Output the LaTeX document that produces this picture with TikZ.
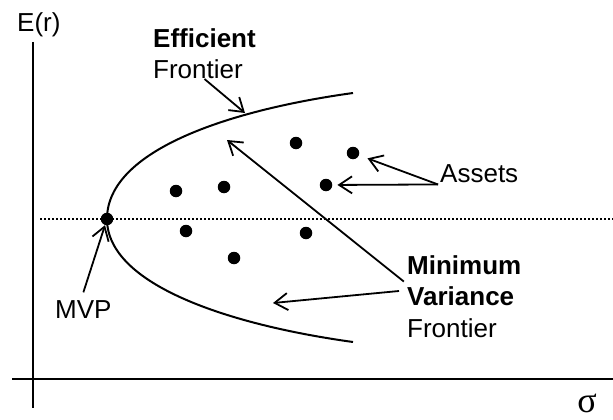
\documentclass[tikz,border=0pt]{standalone}
\usepackage{fontspec}
\setmainfont{Liberation Sans}
\newfontfamily\greekfont{Liberation Serif}
\usetikzlibrary{arrows.meta}

\begin{document}
\begin{tikzpicture}[x=1pt, y=-1pt,
  textstyle/.style={black, inner sep=0pt, align=left, font=\fontsize{26}{31.5}\selectfont},
  dotstyle/.style={circle, fill=black, inner sep=0pt, minimum size=12.5pt},
  arrowstyle/.style={black, line width=1.8pt, -{Straight Barb[length=13pt,width=17pt]}}]
  \useasboundingbox (0,0) rectangle (613,420);

  % axes and the MVP level
  \draw [line width=2pt] (33,42) -- (33,408);
  \draw [line width=2pt] (12,379) -- (613,379);
  \draw [line width=1.4pt, dash pattern=on 1.6pt off 2.4pt] (40,219) -- (613,219);
  \node [textstyle, anchor=base west] (Er) at (17,32) {E(r)};
  \node [inner sep=0pt, anchor=base, font=\greekfont\fontsize{36}{38}\selectfont] (Sigma) at (587,412) {σ};

  % frontier
  \draw [line width=2pt] (353,93) .. controls (230,110) and (107,150) .. (107,219)
    .. controls (107,285) and (230,325) .. (353,342);
  \coordinate (EffTip) at (245,113);
  \coordinate (EffInner) at (227,140);
  \coordinate (MinTip) at (273,303);

  % assets
  \node [dotstyle] (MVPDot) at (107,219) {};
  \node [dotstyle] (AssetA) at (296,143) {};
  \node [dotstyle] (AssetB) at (353,153) {};
  \node [dotstyle] (AssetC) at (326,185) {};
  \node [dotstyle] (AssetD) at (176,191) {};
  \node [dotstyle] (AssetE) at (224,187) {};
  \node [dotstyle] (AssetF) at (186,231) {};
  \node [dotstyle] (AssetG) at (306,233) {};
  \node [dotstyle] (AssetH) at (234,258) {};

  % labels
  \node [textstyle, anchor=north west] (Eff) at (153,28) {\textbf{Efficient}\\Frontier};
  \node [textstyle, anchor=base west, inner sep=2pt] (Assets) at (438,182) {Assets};
  \node [textstyle, anchor=north west] (MinVar) at (407,255) {\textbf{Minimum}\\\textbf{Variance}\\Frontier};
  \node [textstyle, anchor=base west] (MVP) at (55,318) {MVP};

  \draw [arrowstyle] (Eff.south) -- (EffTip);
  \draw [arrowstyle, shorten >=9pt] (Assets.south west) -- (AssetB);
  \draw [arrowstyle, shorten >=5pt] (Assets.south west) -- (AssetC);
  \draw [arrowstyle, shorten <=4pt] (MinVar.168) -- (EffInner);
  \draw [arrowstyle, shorten <=8pt] (MinVar.174) -- (MinTip);
  \draw [arrowstyle, shorten <=8pt] (MVP.105) -- (MVPDot);
\end{tikzpicture}
\end{document}
